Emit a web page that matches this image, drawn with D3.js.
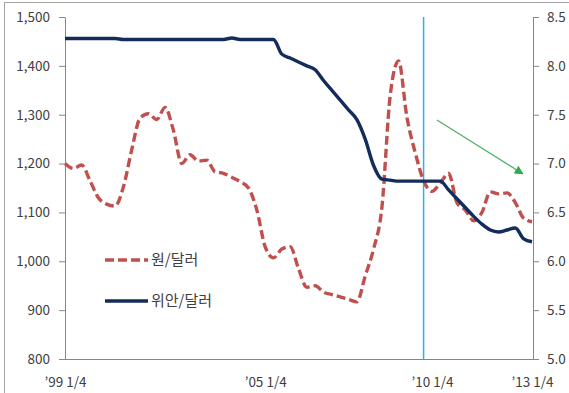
<!DOCTYPE html>
<html>
<head>
<meta charset="utf-8">
<script src="https://cdn.jsdelivr.net/npm/d3@7"></script>
<style>
  html, body { margin: 0; padding: 0; background: #fff; }
  svg { display: block; }
  text { font-family: "Noto Sans CJK KR", "Noto Sans", sans-serif; fill: #404040; }
</style>
</head>
<body>
<svg id="chart" width="569" height="393"></svg>
<script>
// Quarterly observations, '99 1/4 .. '13 1/4
const quarterIndex = d3.range(57);

// KRW per USD (left axis)
const wonPerDollar = [
  1200, 1190, 1197, 1165, 1130, 1117, 1113, 1152, 1228, 1293,
  1302, 1290, 1315, 1268, 1200, 1218, 1205, 1207, 1183, 1180,
  1172, 1163, 1150, 1105, 1030, 1007, 1025, 1030, 985, 947,
  950, 937, 932, 927, 922, 917, 970, 1025, 1110, 1340,
  1410, 1295, 1222, 1165, 1143, 1160, 1180, 1120, 1105, 1083,
  1100, 1142, 1138, 1140, 1120, 1088, 1081
];

// CNY per USD (right axis)
const yuanPerDollar = [
  8.28, 8.28, 8.28, 8.28, 8.28, 8.28, 8.28, 8.27, 8.27, 8.27,
  8.27, 8.27, 8.27, 8.27, 8.27, 8.27, 8.27, 8.27, 8.27, 8.27,
  8.285, 8.27, 8.27, 8.27, 8.27, 8.27, 8.12, 8.08, 8.04, 8.00,
  7.96, 7.85, 7.75, 7.65, 7.55, 7.45, 7.25, 6.98, 6.84, 6.83,
  6.82, 6.82, 6.82, 6.82, 6.82, 6.82, 6.73, 6.64, 6.55, 6.46,
  6.38, 6.32, 6.30, 6.32, 6.34, 6.23, 6.20
];

// Category labels shown on the horizontal axis
const xLabelIndex = [0, 24, 44, 56];
const xLabelText = ["’99 1/4", "’05 1/4", "’10 1/4", "’13 1/4"];

// Axis ticks
const leftTicks = [800, 900, 1000, 1100, 1200, 1300, 1400, 1500];
const rightTicks = [5.0, 5.5, 6.0, 6.5, 7.0, 7.5, 8.0, 8.5];

// Series names
const seriesNames = ["원/달러", "위안/달러"];

// Reference marker ('09 4/4) and trend arrow (start/end in index, won units)
const markerIndex = 43;
const arrowFrom = [44.6, 1289];
const arrowTo = [54.9, 1179];

const svg = d3.select("#chart");
const plot = { left: 65, right: 532, top: 17, bottom: 359 };

const x = d3.scaleLinear().domain([0, 56]).range([plot.left, plot.right]);
const yL = d3.scaleLinear().domain([800, 1500]).range([plot.bottom, plot.top]);
const yR = d3.scaleLinear().domain([5.0, 8.5]).range([plot.bottom, plot.top]);

// outer frame
svg.append("rect")
  .attr("x", 4.5).attr("y", 2.5).attr("width", 620).attr("height", 420)
  .attr("fill", "none").attr("stroke", "#a6a6a6").attr("stroke-width", 1);

// left axis
const gL = svg.append("g").attr("transform", `translate(${plot.left},0)`)
  .call(d3.axisLeft(yL).tickValues(leftTicks).tickFormat(d3.format(",")).tickSize(6).tickSizeOuter(0).tickPadding(9));
// right axis
const gR = svg.append("g").attr("transform", `translate(${plot.right + 1},0)`)
  .call(d3.axisRight(yR).tickValues(rightTicks).tickFormat(d3.format(".1f")).tickSize(6).tickSizeOuter(0).tickPadding(8));
// bottom axis
const gB = svg.append("g").attr("transform", `translate(0,${plot.bottom})`)
  .call(d3.axisBottom(x).tickValues(xLabelIndex).tickFormat((d, i) => xLabelText[i]).tickSize(0).tickSizeOuter(0).tickPadding(18));
gB.select(".domain").remove();
svg.append("line")
  .attr("x1", plot.left - 6).attr("x2", plot.right + 7)
  .attr("y1", plot.bottom + 0.5).attr("y2", plot.bottom + 0.5)
  .attr("stroke", "#868686");

[gL, gR, gB].forEach(g => {
  g.selectAll(".domain, .tick line").attr("stroke", "#868686");
  g.selectAll("text").style("font-size", "13.5px").attr("fill", "#404040");
});

// vertical marker line
svg.append("line")
  .attr("x1", x(markerIndex)).attr("x2", x(markerIndex))
  .attr("y1", plot.top).attr("y2", plot.bottom)
  .attr("stroke", "#2fb0ea").attr("stroke-width", 1.5);

// won line (dashed)
const wonLine = d3.line().x((d, i) => x(quarterIndex[i])).y(d => yL(d)).curve(d3.curveMonotoneX);
svg.append("path").datum(wonPerDollar)
  .attr("d", wonLine)
  .attr("fill", "none").attr("stroke", "#c0504d").attr("stroke-width", 3.4)
  .attr("stroke-dasharray", "9,4");

// yuan line (solid)
const yuanLine = d3.line().x((d, i) => x(quarterIndex[i])).y(d => yR(d)).curve(d3.curveMonotoneX);
svg.append("path").datum(yuanPerDollar)
  .attr("d", yuanLine)
  .attr("fill", "none").attr("stroke", "#132c5b").attr("stroke-width", 3.4)
  .attr("stroke-linejoin", "round");

// trend arrow
const defs = svg.append("defs");
defs.append("marker").attr("id", "arrowHead")
  .attr("viewBox", "0 0 10 10").attr("refX", 9).attr("refY", 5)
  .attr("markerWidth", 9).attr("markerHeight", 9).attr("markerUnits", "userSpaceOnUse")
  .attr("orient", "auto")
  .append("path").attr("d", "M0,0 L10,5 L0,10 z").attr("fill", "#2fa84f");
svg.append("line")
  .attr("x1", x(arrowFrom[0])).attr("y1", yL(arrowFrom[1]))
  .attr("x2", x(arrowTo[0])).attr("y2", yL(arrowTo[1]))
  .attr("stroke", "#4caf60").attr("stroke-width", 1.2)
  .attr("marker-end", "url(#arrowHead)");

// legend
const legend = svg.append("g");
const legendRows = [
  { name: seriesNames[0], y: 260, color: "#c0504d", dash: "9,4" },
  { name: seriesNames[1], y: 301, color: "#132c5b", dash: null }
];
legendRows.forEach(r => {
  legend.append("line")
    .attr("x1", 105).attr("x2", 148).attr("y1", r.y).attr("y2", r.y)
    .attr("stroke", r.color).attr("stroke-width", 3.4)
    .attr("stroke-dasharray", r.dash);
  legend.append("text")
    .attr("x", 151).attr("y", r.y).attr("dy", "0.36em")
    .style("font-size", "15px").attr("fill", "#333")
    .text(r.name);
});
</script>
</body>
</html>
